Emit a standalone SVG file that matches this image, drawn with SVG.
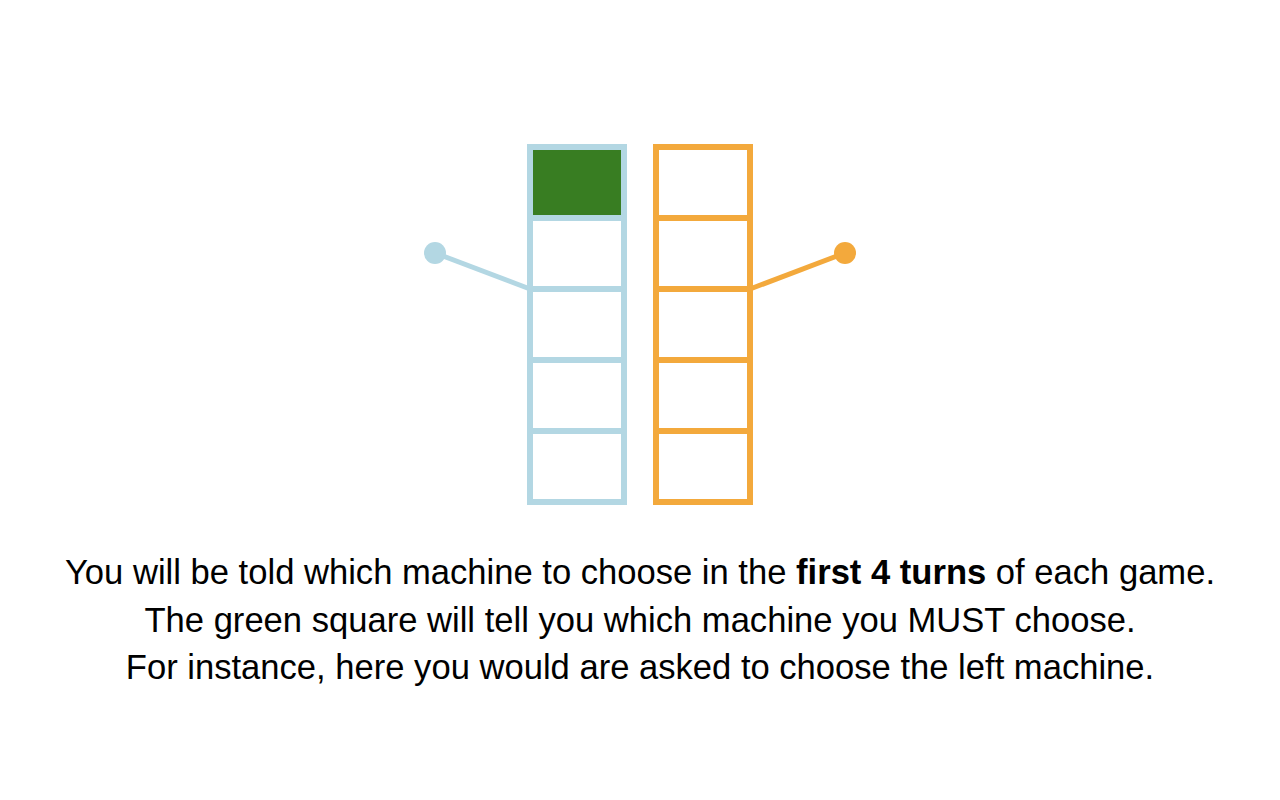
<svg xmlns="http://www.w3.org/2000/svg" width="1280" height="800" viewBox="0 0 1280 800">
<style>
.blue{fill:none;stroke:#b3d7e3;stroke-width:6}
.orange{fill:none;stroke:#f3a93c;stroke-width:6}
.t{font-family:"Liberation Sans",Arial,sans-serif;font-size:34.6px;fill:#000;text-anchor:middle}
</style>
<rect width="1280" height="800" fill="#fff"/>
<g id="connectors">
<line x1="435" y1="253" x2="530" y2="289" stroke="#b3d7e3" stroke-width="5"/>
<line x1="750" y1="289" x2="845" y2="253" stroke="#f3a93c" stroke-width="5"/>
</g>
<g id="lever-left"><circle cx="435" cy="253" r="11" fill="#b3d7e3"/></g>
<g id="lever-right"><circle cx="845" cy="253" r="11" fill="#f3a93c"/></g>
<g id="machine-left">
<rect x="533" y="150" width="88" height="65" fill="#387d22"/>
<rect class="blue" x="530" y="147" width="94" height="71"/>
<rect class="blue" x="530" y="218" width="94" height="71"/>
<rect class="blue" x="530" y="289" width="94" height="71"/>
<rect class="blue" x="530" y="360" width="94" height="71"/>
<rect class="blue" x="530" y="431" width="94" height="71"/>
</g>
<g id="machine-right">
<rect class="orange" x="656" y="147" width="94" height="71"/>
<rect class="orange" x="656" y="218" width="94" height="71"/>
<rect class="orange" x="656" y="289" width="94" height="71"/>
<rect class="orange" x="656" y="360" width="94" height="71"/>
<rect class="orange" x="656" y="431" width="94" height="71"/>
</g>
<g id="text">
<text class="t" x="640" y="584">You will be told which machine to choose in the <tspan font-weight="bold">first 4 turns</tspan> of each game.</text>
<text class="t" x="640" y="631.5">The green square will tell you which machine you MUST choose.</text>
<text class="t" x="640" y="679">For instance, here you would are asked to choose the left machine.</text>
</g>
</svg>
